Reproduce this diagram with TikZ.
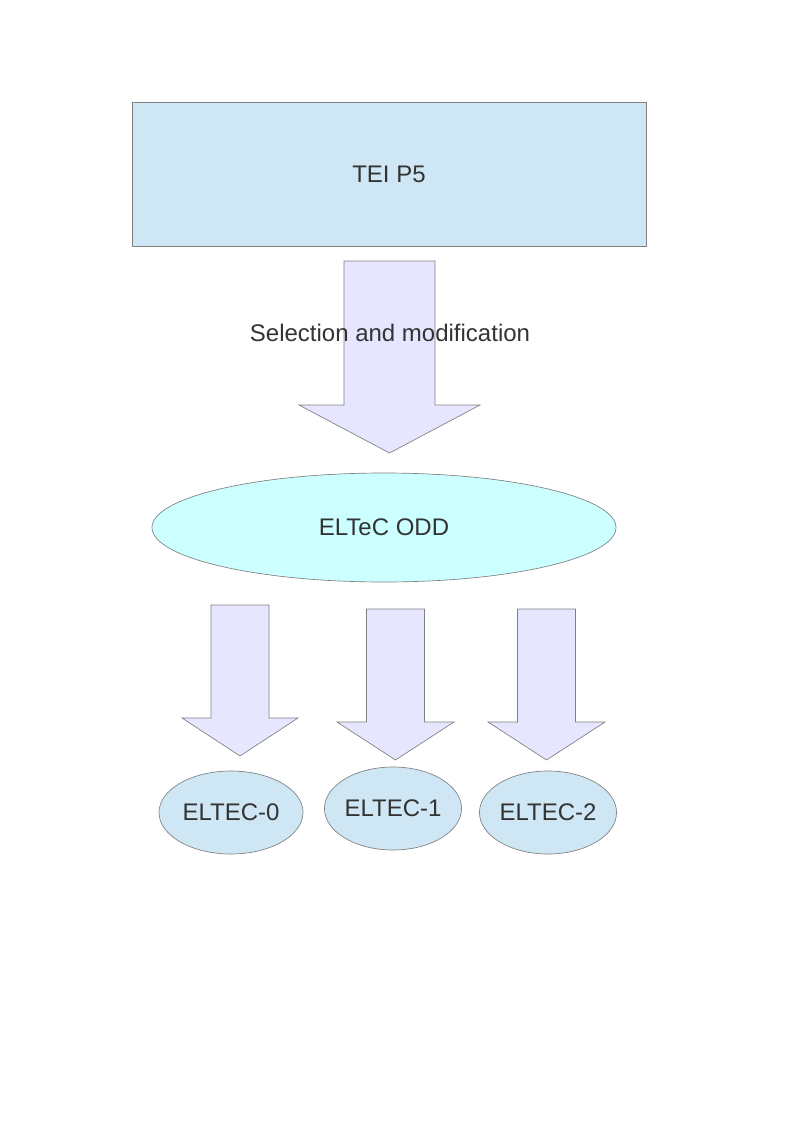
\documentclass[tikz,border=0pt]{standalone}
\usepackage{fontspec}
\setmainfont{Liberation Sans}
\usepackage{tikz}
\usetikzlibrary{shapes.geometric, calc}
\definecolor{LineGray}{HTML}{808080}
\definecolor{TextGray}{HTML}{333333}
\definecolor{PaleBlue}{HTML}{CFE7F5}
\definecolor{PaleLilac}{HTML}{E6E6FF}
\definecolor{PaleCyan}{HTML}{CCFFFF}
\tikzset{
  % Box styles
  specbox/.style={rectangle, draw=LineGray, fill=PaleBlue, line width=0.5pt, minimum width=385.5pt, minimum height=108pt, inner sep=0pt, font=\fontsize{18}{22}\selectfont, text=TextGray, align=center},
  oddnode/.style={ellipse, draw=LineGray, fill=PaleCyan, line width=0.5pt, minimum width=348pt, minimum height=81.75pt, inner sep=0pt, font=\fontsize{18}{22}\selectfont, text=TextGray},
  levelnode/.style={ellipse, draw=LineGray, fill=PaleBlue, line width=0.5pt, minimum width=102pt, minimum height=62.25pt, inner sep=0pt, font=\fontsize{18}{22}\selectfont, text=TextGray},
  labeltext/.style={font=\fontsize{18}{22}\selectfont, text=TextGray, inner sep=0pt},
  % Arrow styles
  blockarrow/.style={draw=LineGray, fill=PaleLilac, line width=0.5pt, line join=miter}
}
% block arrow: start, tip, half shaft, half head, head length
\newcommand{\blockarrow}[5]{%
  \draw[blockarrow] ($(#1)+(-#3,0)$) -- ($(#1)+(#3,0)$) -- ($(#2)+(#3,-#5)$)
    -- ($(#2)+(#4,-#5)$) -- (#2) -- ($(#2)+(-#4,-#5)$) -- ($(#2)+(-#3,-#5)$) -- cycle;}
\begin{document}
\begin{tikzpicture}[x=0.75pt, y=-0.75pt]
  \useasboundingbox (0,0) rectangle (794,1123);

  % Source
  \node[specbox] (tei) at (389,174) {TEI P5};

  % Customisation
  \coordinate (selstart) at (389.5,261);
  \coordinate (seltip) at (389.5,453);
  \blockarrow{selstart}{seltip}{45.5}{90.5}{48}
  \node[labeltext] (selmod) at (390,333) {Selection and modification};

  \node[oddnode] (odd) at (384,527.5) {ELTeC ODD};

  % Encoding levels
  \node[levelnode, minimum width=108pt] (level0) at (231,812.5) {ELTEC-0};
  \node[levelnode] (level1) at (393,808.5) {ELTEC-1};
  \node[levelnode] (level2) at (548,812.5) {ELTEC-2};

  % Arrows
  \coordinate (start0) at (240,605);
  \coordinate (tip0) at (240,756);
  \coordinate (start1) at (395.5,609);
  \coordinate (tip1) at (395.5,760);
  \coordinate (start2) at (546.5,609);
  \coordinate (tip2) at (546.5,760);
  \blockarrow{start0}{tip0}{29}{58}{38}
  \blockarrow{start1}{tip1}{29}{58.5}{38}
  \blockarrow{start2}{tip2}{29}{58.5}{38}
\end{tikzpicture}
\end{document}
